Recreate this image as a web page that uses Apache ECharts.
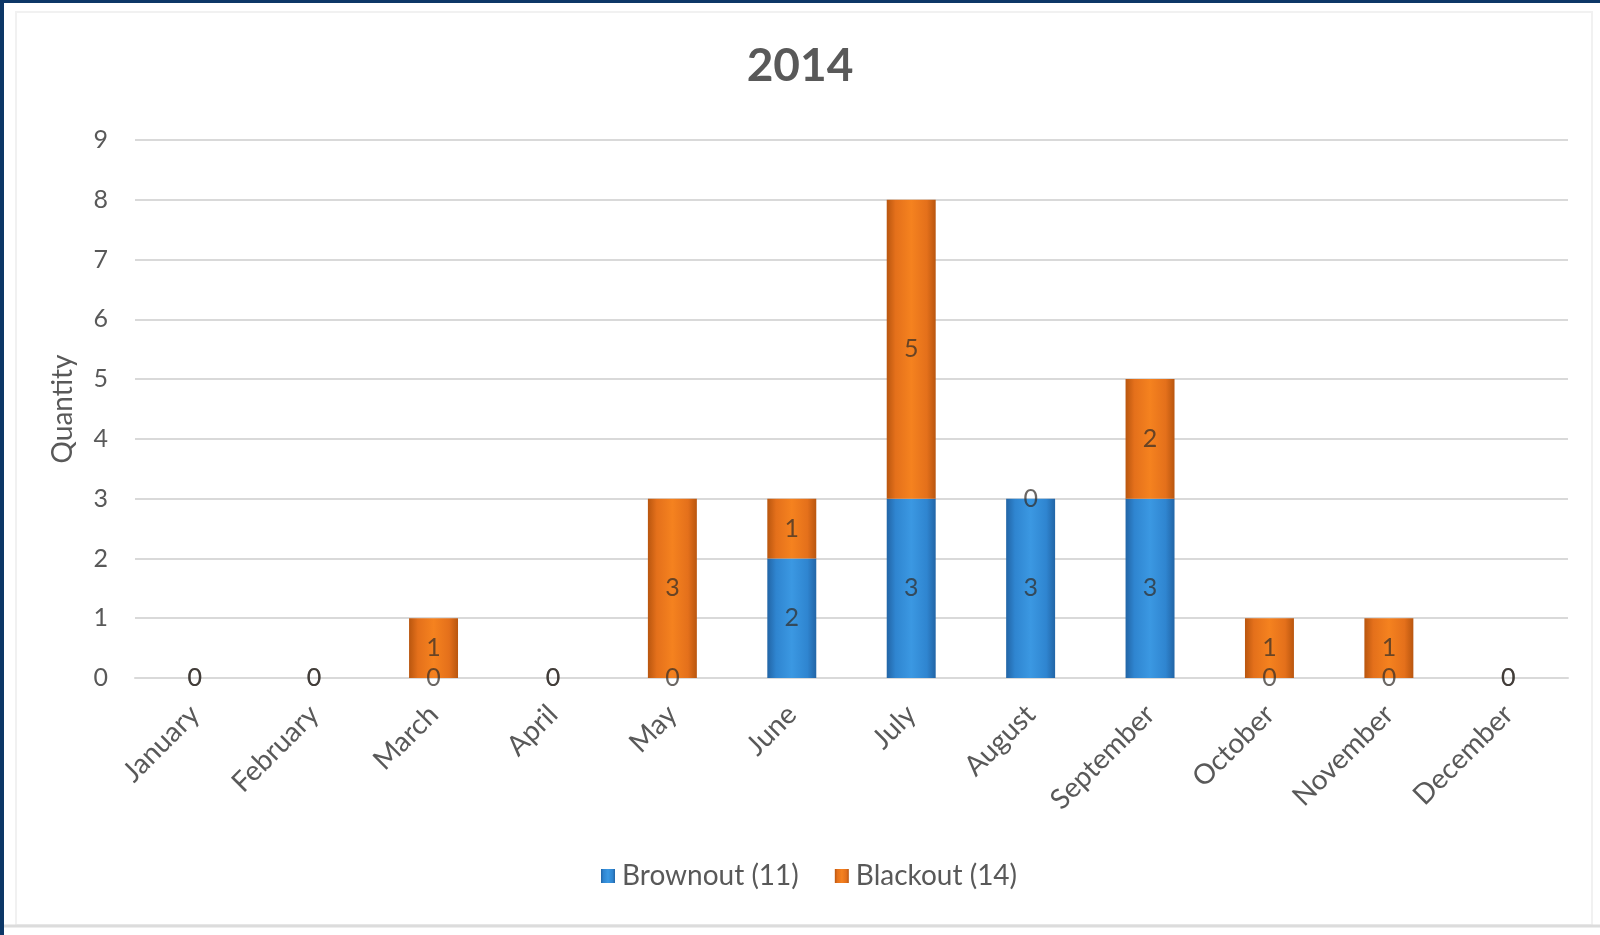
<!DOCTYPE html>
<html>
<head>
<meta charset="utf-8">
<title>2014</title>
<script src="https://cdn.jsdelivr.net/npm/echarts@6/dist/echarts.min.js"></script>
<style>
  html, body { margin: 0; padding: 0; background: #ffffff; }
  #frame {
    position: absolute; left: 0; top: 0;
    width: 1600px; height: 935px;
    box-sizing: border-box;
    border-top: 3px solid #0d3767;
    border-left: 4px solid #0d3767;
    background: #ffffff;
  }
  #chart { position: absolute; left: 0; top: 0; width: 1600px; height: 935px; }
</style>
</head>
<body>
<div id="frame"></div>
<div id="chart"></div>
<script>
// Monthly counts of power incidents in 2014
const months = ['January', 'February', 'March', 'April', 'May', 'June',
                'July', 'August', 'September', 'October', 'November', 'December'];
const brownout = [0, 0, 0, 0, 0, 2, 3, 3, 3, 0, 0, 0];
const blackout = [0, 0, 1, 0, 3, 1, 5, 0, 2, 1, 1, 0];
const yTicks = [0, 1, 2, 3, 4, 5, 6, 7, 8, 9];

const total = arr => arr.reduce((a, b) => a + b, 0);
const brownoutName = 'Brownout (' + total(brownout) + ')';
const blackoutName = 'Blackout (' + total(blackout) + ')';

const FONT = 'Lato, "Open Sans", sans-serif';

// Cylinder-like shading: darker edges, brighter centre
function shade(edge, mid, centre) {
  return {
    type: 'linear', x: 0, y: 0, x2: 1, y2: 0,
    colorStops: [
      { offset: 0, color: edge },
      { offset: 0.18, color: mid },
      { offset: 0.5, color: centre },
      { offset: 0.82, color: mid },
      { offset: 1, color: edge }
    ]
  };
}
const blueFill = shade('#2265a6', '#2f85d0', '#3b98e2');
const orangeFill = shade('#b9560f', '#e4701b', '#f5821f');

const barLabel = {
  show: true,
  position: 'inside',
  fontFamily: FONT,
  fontSize: 25,
  color: 'rgba(50,45,40,0.72)'
};

const chart = echarts.init(document.getElementById('chart'), null, { renderer: 'canvas' });
chart.setOption({
  backgroundColor: 'transparent',
  animation: false,
  title: {
    text: '2014',
    left: 'center',
    top: 38,
    textStyle: { fontFamily: FONT, fontSize: 46, fontWeight: 'bold', color: '#595959' }
  },
  legend: {
    left: 596,
    top: 857,
    icon: 'rect',
    itemWidth: 14,
    itemHeight: 14,
    itemGap: 36,
    textStyle: { fontFamily: FONT, fontSize: 28, color: '#595959', padding: [0, 0, 0, 2] },
    data: [brownoutName, blackoutName]
  },
  grid: { left: 135, right: 32, top: 140, bottom: 257, containLabel: false },
  xAxis: {
    type: 'category',
    data: months,
    axisLine: { show: true, lineStyle: { color: '#d9d9d9', width: 2 } },
    axisTick: { show: false },
    axisLabel: {
      rotate: 45,
      margin: 32,
      interval: 0,
      fontFamily: FONT,
      fontSize: 28,
      color: '#595959'
    }
  },
  yAxis: {
    type: 'value',
    min: yTicks[0],
    max: yTicks[yTicks.length - 1],
    interval: 1,
    name: 'Quantity',
    nameLocation: 'middle',
    nameRotate: 90,
    nameGap: 58,
    nameTextStyle: { fontFamily: FONT, fontSize: 28, color: '#595959' },
    axisLine: { show: false },
    axisTick: { show: false },
    axisLabel: { margin: 27, fontFamily: FONT, fontSize: 25, color: '#595959' },
    splitLine: { show: true, lineStyle: { color: '#d9d9d9', width: 2 } }
  },
  series: [
    {
      name: brownoutName,
      type: 'bar',
      stack: 'incidents',
      barWidth: '41%',
      data: brownout,
      itemStyle: { color: blueFill },
      label: barLabel
    },
    {
      name: blackoutName,
      type: 'bar',
      stack: 'incidents',
      barWidth: '41%',
      data: blackout,
      itemStyle: { color: orangeFill },
      label: barLabel
    }
  ],
  graphic: [
    {
      type: 'rect',
      silent: true,
      shape: { x: 16, y: 12, width: 1576, height: 913 },
      style: { fill: 'none', stroke: '#f1f1f1', lineWidth: 2 }
    },
    {
      type: 'line',
      silent: true,
      shape: { x1: 4, y1: 926, x2: 1600, y2: 926 },
      style: { stroke: '#dcdcdc', lineWidth: 3 }
    }
  ]
});
</script>
</body>
</html>
